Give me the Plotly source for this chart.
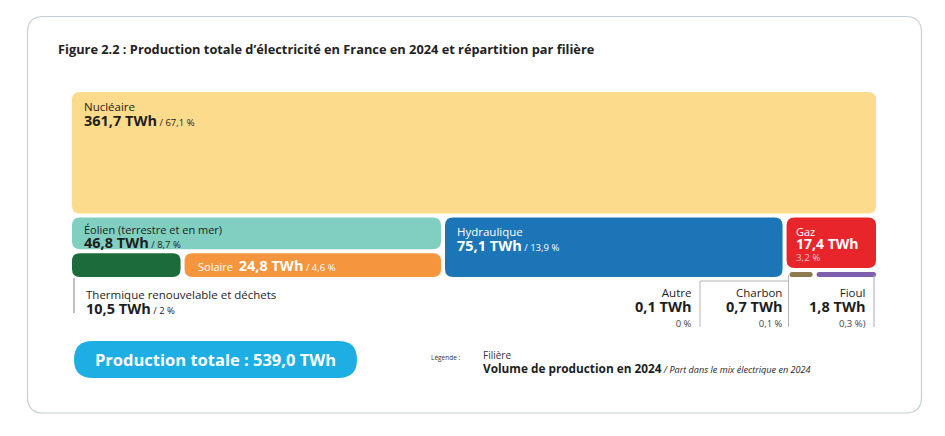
import plotly.graph_objects as go

# ---------------- data ----------------
filieres = ["Nucléaire", "Éolien (terrestre et en mer)", "Hydraulique", "Gaz",
            "Thermique renouvelable et déchets", "Solaire", "Autre", "Charbon", "Fioul"]
twh = [361.7, 46.8, 75.1, 17.4, 10.5, 24.8, 0.1, 0.7, 1.8]
parts = ["67,1 %", "8,7 %", "13,9 %", "3,2 %", "2 %", "4,6 %", "0 %", "0,1 %", "0,3 %)"]
couleurs = ["#FDDB8C", "#80CFC1", "#1B75B6", "#E8252B", "#1C6B3A", "#F5963E",
            "#BBBBBB", "#8C7B4E", "#7D5FAE"]
total_twh = 539.0

V = dict(zip(filieres, twh))
P = dict(zip(filieres, parts))
C = dict(zip(filieres, couleurs))

def fmt(v):
    return f"{v:.1f}".replace(".", ",")

# ---------------- treemap layout computed from values ----------------
X0, Y0, W, H, G = 72, 92, 804, 185, 4
STRIP = 5
tot = sum(twh)
rects = {}
h1 = (H - G) * V["Nucléaire"] / tot
rects["Nucléaire"] = (X0, Y0, X0 + W, Y0 + h1)
ry0 = Y0 + h1 + G
ry1 = Y0 + H
rh = ry1 - ry0
col_left = V["Éolien (terrestre et en mer)"] + V["Thermique renouvelable et déchets"] + V["Solaire"]
col_hyd = V["Hydraulique"]
col_gaz = V["Gaz"] + V["Charbon"] + V["Fioul"]
cs = col_left + col_hyd + col_gaz
wl = (W - 2 * G) * col_left / cs
wh = (W - 2 * G) * col_hyd / cs
xl0, xl1 = X0, X0 + wl
xh0, xh1 = xl1 + G, xl1 + G + wh
xg0, xg1 = xh1 + G, X0 + W
wg = xg1 - xg0
# left column
he = (rh - G) * V["Éolien (terrestre et en mer)"] / col_left
rects["Éolien (terrestre et en mer)"] = (xl0, ry0, xl1, ry0 + he)
bsum = V["Thermique renouvelable et déchets"] + V["Solaire"]
wt = (wl - G) * V["Thermique renouvelable et déchets"] / bsum
rects["Thermique renouvelable et déchets"] = (xl0, ry0 + he + G, xl0 + wt, ry1)
rects["Solaire"] = (xl0 + wt + G, ry0 + he + G, xl1, ry1)
# hydro
rects["Hydraulique"] = (xh0, ry0, xh1, ry1)
# gas column: gas on top, thin strip of minor fossil fuels beneath
rects["Gaz"] = (xg0, ry0, xg1, ry1 - STRIP - G)
ssum = V["Charbon"] + V["Fioul"]
wc = (wg - G - 3) * V["Charbon"] / ssum
rects["Charbon"] = (xg0 + 3, ry1 - STRIP, xg0 + 3 + wc, ry1)
rects["Fioul"] = (xg0 + 3 + wc + G, ry1 - STRIP, xg1, ry1)


def rr(x0, y0, x1, y1, r):
    r = min(r, (x1 - x0) / 2, (y1 - y0) / 2)
    return (f"M {x0+r},{y0} L {x1-r},{y0} Q {x1},{y0} {x1},{y0+r} "
            f"L {x1},{y1-r} Q {x1},{y1} {x1-r},{y1} L {x0+r},{y1} "
            f"Q {x0},{y1} {x0},{y1-r} L {x0},{y0+r} Q {x0},{y0} {x0+r},{y0} Z")


shapes = []
# outer frame
shapes.append(dict(type="path", path=rr(27.5, 16.5, 921.5, 413, 16), xref="x", yref="y",
                   line=dict(color="#C5CFD6", width=1.2), fillcolor="rgba(0,0,0,0)", layer="below"))
for name, (a, b, c, d) in rects.items():
    rad = 8 if (d - b) > 10 else 2.5
    shapes.append(dict(type="path", path=rr(a, b, c, d, rad), xref="x", yref="y",
                       line=dict(width=0), fillcolor=C[name], layer="below"))

# connector lines
line_gray = dict(color="#B4B4B4", width=1)
tx0 = rects["Thermique renouvelable et déchets"][0]
shapes.append(dict(type="line", x0=tx0 + 2, x1=tx0 + 2, y0=ry1 + 1, y1=ry1 + 36, xref="x", yref="y",
                   line=dict(color="#8F9A93", width=1.2)))
shapes.append(dict(type="line", x0=700, x1=788, y0=281, y1=281, xref="x", yref="y", line=line_gray))
shapes.append(dict(type="line", x0=700, x1=700, y0=281, y1=327, xref="x", yref="y", line=line_gray))
shapes.append(dict(type="line", x0=xg0 + 2, x1=xg0 + 2, y0=ry1 - 2, y1=327, xref="x", yref="y", line=line_gray))
shapes.append(dict(type="line", x0=xg1 - 2, x1=xg1 - 2, y0=ry1 - 2, y1=327, xref="x", yref="y",
                   line=dict(color="#ABA3C6", width=1)))
# total pill
shapes.append(dict(type="path", path=rr(74, 341, 357, 378, 18.5), xref="x", yref="y",
                   line=dict(width=0), fillcolor="#1DAEE4"))

FONT = "Open Sans"
DARK = "#1E1E1E"
ann = []

def add(x, y, text, size, color=DARK, xanchor="left", family=FONT):
    ann.append(dict(x=x, y=y, xref="x", yref="y", text=text, showarrow=False,
                    xanchor=xanchor, yanchor="middle", align=xanchor if xanchor != "center" else "center",
                    font=dict(family=family, size=size, color=color)))

def big(t, s=14.5):
    return f"<b><span style='font-size:{s}px'>{t}</span></b>"

def small(t, s=9.5):
    return f"<span style='font-size:{s}px'>{t}</span>"

def block(name, color=DARK):
    return f"{name}<br>{big(fmt(V[name]) + ' TWh')}{small(' / ' + P[name])}"

# title
add(56, 49, "<b>Figure 2.2 : Production totale d’électricité en France en 2024 et répartition par filière</b>",
    12.8, "#222222")

# Nucleaire
a, b, c, d = rects["Nucléaire"]
add(a + 10, b + 22, block("Nucléaire"), 11.5)
# Eolien
a, b, c, d = rects["Éolien (terrestre et en mer)"]
add(a + 10, b + 19.5, block("Éolien (terrestre et en mer)"), 11)
# Hydraulique
a, b, c, d = rects["Hydraulique"]
add(a + 10, b + 22, block("Hydraulique"), 11.5, "white")
# Gaz
a, b, c, d = rects["Gaz"]
add(a + 7, b + 27, "<span style='font-size:11px'>Gaz</span><br>" + big(fmt(V["Gaz"]) + " TWh", 14)
    + "<br><span style='color:#F6C0C0'>" + P["Gaz"] + "</span>", 9.8, "white")
# Solaire
a, b, c, d = rects["Solaire"]
add(a + 11, (b + d) / 2, "Solaire  " + big(fmt(V["Solaire"]) + " TWh") + small(" / " + P["Solaire"]),
    11, "white")
# Thermique
a, b, c, d = rects["Thermique renouvelable et déchets"]
add(a + 12, d + 25, block("Thermique renouvelable et déchets"), 11.5)

# small ones (right aligned)
for name, xr in [("Autre", 694), ("Charbon", 785), ("Fioul", 868)]:
    add(xr, 307, f"{name}<br>{big(fmt(V[name]) + ' TWh')}<br>"
        f"<span style='font-size:9.5px;color:#444444'>{P[name]}</span>", 11.5, xanchor="right")

# total
add(215.5, 359.5, f"<b>Production totale : {fmt(total_twh)} TWh</b>", 16.5, "white", xanchor="center")

# legend
add(429, 357, "Légende :", 6.5, "#333333")
add(481, 362, "<span style='color:#333333;font-size:10px'>Filière</span><br>"
    "<b><span style='font-size:11.8px'>Volume de production en 2024</span></b>"
    "<span style='font-size:9.1px'><i> / Part dans le mix électrique en 2024</i></span>", 10.5)

fig = go.Figure()
fig.add_trace(go.Scatter(x=[8, 953], y=[8, 444], mode="markers", marker=dict(opacity=0),
                         hoverinfo="skip", showlegend=False))
# the page body has an 8 px margin: axis ranges are offset so data units equal screen pixels
fig.update_layout(
    width=945, height=436, autosize=False,
    margin=dict(l=0, r=0, t=0, b=0),
    paper_bgcolor="white", plot_bgcolor="white",
    xaxis=dict(range=[8, 953], visible=False, fixedrange=True),
    yaxis=dict(range=[444, 8], visible=False, fixedrange=True),
    shapes=shapes, annotations=ann, showlegend=False,
)
fig.write_html("out.html")
